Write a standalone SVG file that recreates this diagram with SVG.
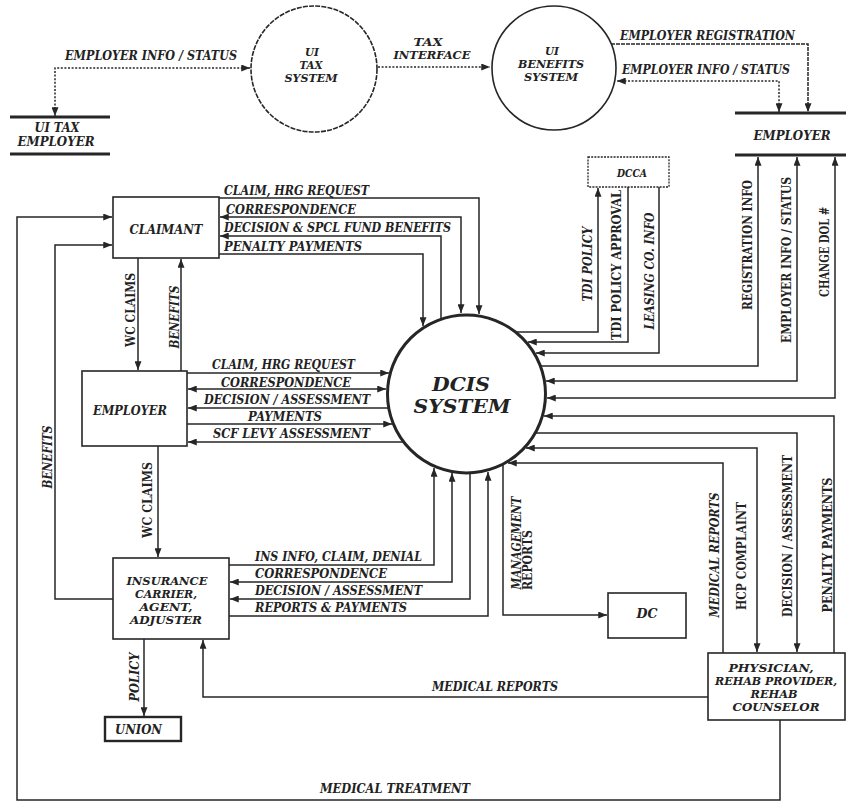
<svg xmlns="http://www.w3.org/2000/svg" width="846" height="803" viewBox="0 0 846 803">
  <style>
    .bg { fill: #ffffff; }
    .box { fill: #ffffff; stroke: #262626; stroke-width: 1.6; }
    .store { stroke: #262626; stroke-width: 3; fill: none; }
    .ln { fill: none; stroke: #262626; stroke-width: 1.5; stroke-linejoin: miter; }
    .dot { stroke-dasharray: 2 1.6; }
    .fine { stroke-dasharray: 4 1; }
    .t { font-family: "DejaVu Serif", "Liberation Serif", serif; font-weight: bold; font-style: italic; font-size: 12px; fill: #222222; }
    .up { font-style: normal; }
    .sm { font-size: 10.5px; }
    .nd { font-size: 11px; }
    .big { font-size: 19px; }
    .mid { text-anchor: middle; }
    .v { text-anchor: middle; dominant-baseline: central; }
  </style>
  <defs>
    <marker id="ah" viewBox="0 0 10 8" refX="10" refY="4" markerWidth="9" markerHeight="7" markerUnits="userSpaceOnUse" orient="auto-start-reverse">
      <path d="M0,0 L10,4 L0,8 z" fill="#262626"/>
    </marker>
  </defs>

  <rect class="bg" x="0" y="0" width="846" height="803"/>

  <!-- connectors -->
  <g id="connectors">
    <!-- top: UI systems and employer files (dotted) -->
    <path class="ln dot" d="M250,68 L55,68 L55,116" marker-start="url(#ah)" marker-end="url(#ah)"/>
    <path class="ln dot" d="M378,67 L490,67" marker-end="url(#ah)"/>
    <path class="ln fine" d="M611,44 L808,44 L808,112" marker-end="url(#ah)"/>
    <path class="ln dot" d="M779,112 L779,81 L617,81" marker-start="url(#ah)" marker-end="url(#ah)"/>

    <!-- claimant <-> DCIS -->
    <path class="ln" d="M219,198 L479,198 L479,314" marker-end="url(#ah)"/>
    <path class="ln" d="M220,217 L461,217 L461,313" marker-start="url(#ah)" marker-end="url(#ah)"/>
    <path class="ln" d="M441,319 L441,236 L220,236" marker-end="url(#ah)"/>
    <path class="ln" d="M219,254 L423,254 L423,326" marker-end="url(#ah)"/>

    <!-- claimant <-> employer -->
    <path class="ln" d="M138,258 L138,370" marker-end="url(#ah)"/>
    <path class="ln" d="M181,371 L181,259" marker-end="url(#ah)"/>

    <!-- employer <-> DCIS -->
    <path class="ln" d="M187,373 L389,373" marker-end="url(#ah)"/>
    <path class="ln" d="M188,389 L386,389" marker-start="url(#ah)" marker-end="url(#ah)"/>
    <path class="ln" d="M389,408 L188,408" marker-end="url(#ah)"/>
    <path class="ln" d="M187,424 L392,424" marker-end="url(#ah)"/>
    <path class="ln" d="M404,442 L188,442" marker-end="url(#ah)"/>

    <!-- employer -> insurance -->
    <path class="ln" d="M158,446 L158,557" marker-end="url(#ah)"/>

    <!-- insurance <-> DCIS -->
    <path class="ln" d="M229,565 L434,565 L434,468" marker-end="url(#ah)"/>
    <path class="ln" d="M230,582 L452,582 L452,473" marker-start="url(#ah)" marker-end="url(#ah)"/>
    <path class="ln" d="M470,473 L470,599 L230,599" marker-end="url(#ah)"/>
    <path class="ln" d="M229,616 L488,616 L488,472" marker-end="url(#ah)"/>

    <!-- insurance -> claimant (benefits) -->
    <path class="ln" d="M113,599 L55,599 L55,245 L112,245" marker-end="url(#ah)"/>

    <!-- insurance -> union -->
    <path class="ln" d="M144,639 L144,716" marker-end="url(#ah)"/>

    <!-- physician -> insurance (medical reports) -->
    <path class="ln" d="M708,697 L203,697 L203,640" marker-end="url(#ah)"/>

    <!-- physician -> claimant (medical treatment) -->
    <path class="ln" d="M780,720 L780,800 L17,800 L17,217 L112,217" marker-end="url(#ah)"/>

    <!-- DCIS -> DC -->
    <path class="ln" d="M503,464 L503,615 L607,615" marker-end="url(#ah)"/>

    <!-- DCIS <-> DCCA -->
    <path class="ln" d="M515,332 L598,332 L598,188" marker-end="url(#ah)"/>
    <path class="ln" d="M628,187 L628,342 L528,342" marker-end="url(#ah)"/>
    <path class="ln" d="M659,187 L659,353 L536,353" marker-end="url(#ah)"/>

    <!-- DCIS <-> employer file -->
    <path class="ln" d="M540,366 L758,366 L758,157" marker-end="url(#ah)"/>
    <path class="ln" d="M797,157 L797,381 L546,381" marker-start="url(#ah)" marker-end="url(#ah)"/>
    <path class="ln" d="M835,157 L835,398 L547,398" marker-start="url(#ah)" marker-end="url(#ah)"/>

    <!-- DCIS <-> physician -->
    <path class="ln" d="M834,653 L834,416 L544,416" marker-end="url(#ah)"/>
    <path class="ln" d="M535,433 L797,433 L797,652" marker-end="url(#ah)"/>
    <path class="ln" d="M757,652 L757,448 L526,448" marker-start="url(#ah)" marker-end="url(#ah)"/>
    <path class="ln" d="M723,653 L723,463 L508,463" marker-end="url(#ah)"/>
  </g>

  <!-- flow labels -->
  <g id="flow-labels">
    <text class="t" x="65" y="60" textLength="172" lengthAdjust="spacingAndGlyphs">EMPLOYER INFO / STATUS</text>
    <text class="t nd mid" x="428" y="46" textLength="29" lengthAdjust="spacingAndGlyphs">TAX</text>
    <text class="t nd mid" x="432" y="59" textLength="77" lengthAdjust="spacingAndGlyphs">INTERFACE</text>
    <text class="t" x="620" y="40" textLength="175" lengthAdjust="spacingAndGlyphs">EMPLOYER REGISTRATION</text>
    <text class="t" x="622" y="74" textLength="168" lengthAdjust="spacingAndGlyphs">EMPLOYER INFO / STATUS</text>

    <text class="t" x="224" y="195" textLength="145" lengthAdjust="spacingAndGlyphs">CLAIM, HRG REQUEST</text>
    <text class="t" x="226" y="214" textLength="130" lengthAdjust="spacingAndGlyphs">CORRESPONDENCE</text>
    <text class="t" x="224" y="232" textLength="227" lengthAdjust="spacingAndGlyphs">DECISION &amp; SPCL FUND BENEFITS</text>
    <text class="t" x="224" y="251" textLength="138" lengthAdjust="spacingAndGlyphs">PENALTY  PAYMENTS</text>

    <text class="t" x="212" y="369" textLength="143" lengthAdjust="spacingAndGlyphs">CLAIM, HRG REQUEST</text>
    <text class="t" x="221" y="387" textLength="130" lengthAdjust="spacingAndGlyphs">CORRESPONDENCE</text>
    <text class="t" x="204" y="404" textLength="166" lengthAdjust="spacingAndGlyphs">DECISION / ASSESSMENT</text>
    <text class="t" x="248" y="421" textLength="74" lengthAdjust="spacingAndGlyphs">PAYMENTS</text>
    <text class="t" x="213" y="438" textLength="157" lengthAdjust="spacingAndGlyphs">SCF LEVY  ASSESSMENT</text>

    <text class="t" x="255" y="561" textLength="167" lengthAdjust="spacingAndGlyphs">INS INFO, CLAIM, DENIAL</text>
    <text class="t" x="255" y="578" textLength="132" lengthAdjust="spacingAndGlyphs">CORRESPONDENCE</text>
    <text class="t" x="255" y="595" textLength="167" lengthAdjust="spacingAndGlyphs">DECISION / ASSESSMENT</text>
    <text class="t" x="255" y="612" textLength="152" lengthAdjust="spacingAndGlyphs">REPORTS &amp; PAYMENTS</text>

    <text class="t" x="432" y="691" textLength="126" lengthAdjust="spacingAndGlyphs">MEDICAL  REPORTS</text>
    <text class="t" x="320" y="793" textLength="150" lengthAdjust="spacingAndGlyphs">MEDICAL  TREATMENT</text>

    <!-- vertical labels, read bottom to top -->
    <text class="t up v" x="131" y="310" transform="rotate(-90 131 310)" textLength="74" lengthAdjust="spacingAndGlyphs">WC CLAIMS</text>
    <text class="t v" x="175" y="317" transform="rotate(-90 175 317)" textLength="63" lengthAdjust="spacingAndGlyphs">BENEFITS</text>
    <text class="t up v" x="148" y="500" transform="rotate(-90 148 500)" textLength="76" lengthAdjust="spacingAndGlyphs">WC CLAIMS</text>
    <text class="t v" x="48" y="457" transform="rotate(-90 48 457)" textLength="63" lengthAdjust="spacingAndGlyphs">BENEFITS</text>
    <text class="t v" x="135" y="677" transform="rotate(-90 135 677)" textLength="49" lengthAdjust="spacingAndGlyphs">POLICY</text>

    <text class="t v" x="588" y="264" transform="rotate(-90 588 264)" textLength="75" lengthAdjust="spacingAndGlyphs">TDI POLICY</text>
    <text class="t up v" x="617" y="265" transform="rotate(-90 617 265)" textLength="150" lengthAdjust="spacingAndGlyphs">TDI  POLICY  APPROVAL</text>
    <text class="t v" x="650" y="271" transform="rotate(-90 650 271)" textLength="117" lengthAdjust="spacingAndGlyphs">LEASING CO. INFO</text>
    <text class="t up v" x="748" y="245" transform="rotate(-90 748 245)" textLength="130" lengthAdjust="spacingAndGlyphs">REGISTRATION  INFO</text>
    <text class="t up v" x="787" y="260" transform="rotate(-90 787 260)" textLength="166" lengthAdjust="spacingAndGlyphs">EMPLOYER INFO / STATUS</text>
    <text class="t up v" x="825" y="252" transform="rotate(-90 825 252)" textLength="90" lengthAdjust="spacingAndGlyphs">CHANGE DOL #</text>

    <text class="t v" x="517" y="543" transform="rotate(-90 517 543)" textLength="93" lengthAdjust="spacingAndGlyphs">MANAGEMENT</text>
    <text class="t up v" x="528" y="560" transform="rotate(-90 528 560)" textLength="60" lengthAdjust="spacingAndGlyphs">REPORTS</text>

    <text class="t v" x="715" y="555" transform="rotate(-90 715 555)" textLength="125" lengthAdjust="spacingAndGlyphs">MEDICAL  REPORTS</text>
    <text class="t up v" x="742" y="556" transform="rotate(-90 742 556)" textLength="108" lengthAdjust="spacingAndGlyphs">HCP  COMPLAINT</text>
    <text class="t up v" x="788" y="536" transform="rotate(-90 788 536)" textLength="162" lengthAdjust="spacingAndGlyphs">DECISION / ASSESSMENT</text>
    <text class="t up v" x="828" y="545" transform="rotate(-90 828 545)" textLength="135" lengthAdjust="spacingAndGlyphs">PENALTY  PAYMENTS</text>
  </g>

  <!-- nodes -->
  <g id="n-ui-tax-employer">
    <line class="store" x1="10" y1="117" x2="110" y2="117"/>
    <line class="store" x1="10" y1="154" x2="110" y2="154"/>
    <text class="t mid" x="57" y="132" textLength="45" lengthAdjust="spacingAndGlyphs">UI TAX</text>
    <text class="t mid" x="56" y="146" textLength="77" lengthAdjust="spacingAndGlyphs">EMPLOYER</text>
  </g>

  <g id="n-ui-tax-system">
    <circle cx="314" cy="69" r="63" fill="#ffffff" stroke="#262626" stroke-width="1.6" stroke-dasharray="5 1.2"/>
    <text class="t sm mid" x="312" y="56" textLength="14" lengthAdjust="spacingAndGlyphs">UI</text>
    <text class="t sm mid" x="311" y="69" textLength="23" lengthAdjust="spacingAndGlyphs">TAX</text>
    <text class="t sm mid" x="311" y="82" textLength="53" lengthAdjust="spacingAndGlyphs">SYSTEM</text>
  </g>

  <g id="n-ui-benefits-system">
    <circle cx="554" cy="68" r="62" fill="#ffffff" stroke="#262626" stroke-width="1.6"/>
    <text class="t sm mid" x="552" y="55" textLength="14" lengthAdjust="spacingAndGlyphs">UI</text>
    <text class="t sm mid" x="551" y="68" textLength="66" lengthAdjust="spacingAndGlyphs">BENEFITS</text>
    <text class="t sm mid" x="551" y="81" textLength="54" lengthAdjust="spacingAndGlyphs">SYSTEM</text>
  </g>

  <g id="n-employer-file">
    <line class="store" x1="735" y1="113" x2="846" y2="113" stroke-width="2.2"/>
    <line class="store" x1="735" y1="155" x2="846" y2="155" stroke-width="3.5"/>
    <text class="t mid" x="792" y="140" textLength="77" lengthAdjust="spacingAndGlyphs">EMPLOYER</text>
  </g>

  <g id="n-dcca">
    <rect x="588" y="157" width="81" height="30" fill="#ffffff" stroke="#262626" stroke-width="1.3" stroke-dasharray="2 1.2"/>
    <text class="t sm mid" x="632" y="177" textLength="30" lengthAdjust="spacingAndGlyphs">DCCA</text>
  </g>

  <g id="n-claimant">
    <rect class="box" x="113" y="197" width="106" height="61"/>
    <text class="t mid" x="166" y="234" textLength="73" lengthAdjust="spacingAndGlyphs">CLAIMANT</text>
  </g>

  <g id="n-employer">
    <rect class="box" x="82" y="371" width="105" height="75"/>
    <text class="t mid" x="130" y="415" textLength="74" lengthAdjust="spacingAndGlyphs">EMPLOYER</text>
  </g>

  <g id="n-dcis">
    <circle cx="466.5" cy="394" r="79" fill="#ffffff" stroke="#262626" stroke-width="3"/>
    <text class="t big mid" x="461" y="391" textLength="58" lengthAdjust="spacingAndGlyphs">DCIS</text>
    <text class="t big mid" x="462" y="413" textLength="97" lengthAdjust="spacingAndGlyphs">SYSTEM</text>
  </g>

  <g id="n-insurance">
    <rect class="box" x="113" y="558" width="116" height="81"/>
    <text class="t nd mid" x="167" y="585" textLength="81" lengthAdjust="spacingAndGlyphs">INSURANCE</text>
    <text class="t nd mid" x="166" y="598" textLength="62" lengthAdjust="spacingAndGlyphs">CARRIER,</text>
    <text class="t nd mid" x="166" y="611" textLength="53" lengthAdjust="spacingAndGlyphs">AGENT,</text>
    <text class="t nd mid" x="166" y="624" textLength="72" lengthAdjust="spacingAndGlyphs">ADJUSTER</text>
  </g>

  <g id="n-union">
    <rect x="105" y="717" width="76" height="24" fill="#ffffff" stroke="#262626" stroke-width="2.4"/>
    <text class="t" x="115" y="734" textLength="47" lengthAdjust="spacingAndGlyphs">UNION</text>
  </g>

  <g id="n-dc">
    <rect class="box" x="608" y="593" width="78" height="45"/>
    <text class="t mid" x="647" y="618" textLength="21" lengthAdjust="spacingAndGlyphs">DC</text>
  </g>

  <g id="n-physician">
    <rect class="box" x="708" y="653" width="137" height="67"/>
    <text class="t nd mid" x="771" y="672" textLength="85" lengthAdjust="spacingAndGlyphs">PHYSICIAN,</text>
    <text class="t nd mid" x="776" y="685" textLength="122" lengthAdjust="spacingAndGlyphs">REHAB PROVIDER,</text>
    <text class="t nd mid" x="774" y="698" textLength="47" lengthAdjust="spacingAndGlyphs">REHAB</text>
    <text class="t nd mid" x="776" y="711" textLength="87" lengthAdjust="spacingAndGlyphs">COUNSELOR</text>
  </g>
</svg>
